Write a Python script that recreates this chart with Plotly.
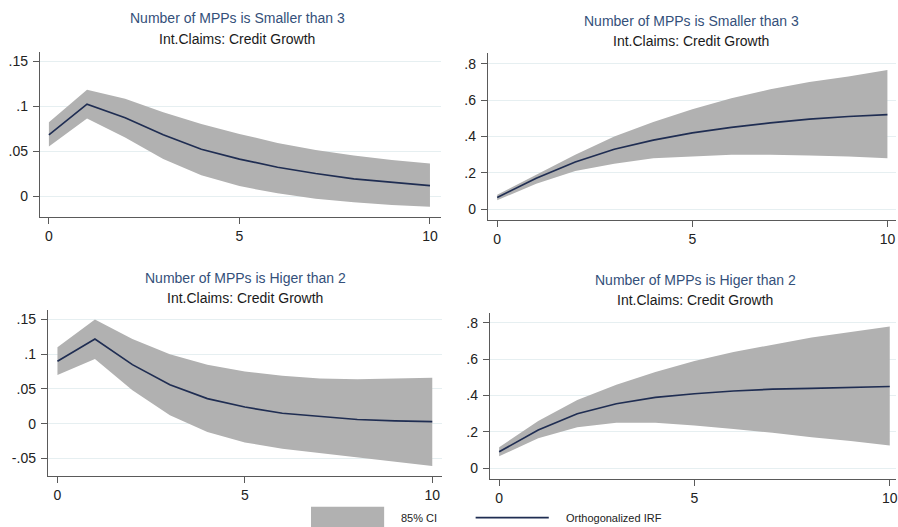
import plotly.graph_objects as go

W, H = 898, 527
steps = list(range(11))

# Panel data (IRF and 85% CI bounds)
irf_small_a = [0.068, 0.102, 0.087, 0.068, 0.052, 0.041, 0.032, 0.025, 0.019, 0.015, 0.0115]
up_small_a = [0.082, 0.118, 0.108, 0.093, 0.080, 0.069, 0.059, 0.051, 0.045, 0.040, 0.036]
lo_small_a = [0.055, 0.086, 0.065, 0.041, 0.023, 0.011, 0.003, -0.003, -0.007, -0.010, -0.012]

irf_small_b = [0.065, 0.17, 0.26, 0.33, 0.38, 0.42, 0.45, 0.475, 0.495, 0.51, 0.52]
up_small_b = [0.08, 0.19, 0.30, 0.40, 0.48, 0.55, 0.61, 0.66, 0.70, 0.73, 0.765]
lo_small_b = [0.05, 0.14, 0.21, 0.25, 0.28, 0.29, 0.30, 0.30, 0.295, 0.29, 0.28]

irf_high_a = [0.09, 0.122, 0.085, 0.056, 0.036, 0.024, 0.015, 0.010, 0.006, 0.004, 0.003]
up_high_a = [0.11, 0.15, 0.122, 0.100, 0.085, 0.075, 0.069, 0.065, 0.064, 0.065, 0.066]
lo_high_a = [0.07, 0.093, 0.048, 0.012, -0.012, -0.027, -0.036, -0.043, -0.049, -0.055, -0.061]

irf_high_b = [0.09, 0.21, 0.30, 0.355, 0.39, 0.41, 0.425, 0.435, 0.44, 0.445, 0.45]
up_high_b = [0.115, 0.26, 0.375, 0.46, 0.53, 0.59, 0.64, 0.68, 0.72, 0.75, 0.78]
lo_high_b = [0.065, 0.165, 0.225, 0.25, 0.25, 0.235, 0.215, 0.195, 0.17, 0.15, 0.125]

title1_small = "Number of MPPs is Smaller than 3"
title1_high = "Number of MPPs is Higer than 2"
title2 = "Int.Claims: Credit Growth"

x_ticks = [0, 5, 10]
y_ticks_a = [0.15, 0.1, 0.05, 0]
y_labels_a = [".15", ".1", ".05", "0"]
y_ticks_a2 = [0.15, 0.1, 0.05, 0, -0.05]
y_labels_a2 = [".15", ".1", ".05", "0", "-.05"]
y_ticks_b = [0.8, 0.6, 0.4, 0.2, 0]
y_labels_b = [".8", ".6", ".4", ".2", "0"]

FILL = "#b1b1b1"
LINE = "#1f2d52"
FONT = "Liberation Sans, Arial, sans-serif"

panels = [
    dict(irf=irf_small_a, up=up_small_a, lo=lo_small_a, px=(40, 442), py=(52, 217),
         xr=(-0.236, 10.29), yr=(-0.0233, 0.16), yt=y_ticks_a, yl=y_labels_a,
         t1=title1_small, tc=(238, 18, 39)),
    dict(irf=irf_small_b, up=up_small_b, lo=lo_small_b, px=(489, 898), py=(53, 220),
         xr=(-0.238, 10.22), yr=(-0.059, 0.859), yt=y_ticks_b, yl=y_labels_b,
         t1=title1_small, tc=(693, 20.5, 41.5)),
    dict(irf=irf_high_a, up=up_high_a, lo=lo_high_a, px=(48, 443), py=(310, 476),
         xr=(-0.255, 10.26), yr=(-0.0754, 0.1637), yt=y_ticks_a2, yl=y_labels_a2,
         t1=title1_high, tc=(246, 278, 298)),
    dict(irf=irf_high_b, up=up_high_b, lo=lo_high_b, px=(491, 898), py=(313, 479),
         xr=(-0.237, 10.16), yr=(-0.060, 0.855), yt=y_ticks_b, yl=y_labels_b,
         t1=title1_high, tc=(697, 280, 300)),
]

fig = go.Figure()
layout = dict(width=W, height=H, margin=dict(l=0, r=0, t=0, b=0),
              paper_bgcolor="white", plot_bgcolor="white", showlegend=False,
              font=dict(family=FONT, color="#222222"))
annotations = []
shapes = []

for i, p in enumerate(panels, start=1):
    xa = "x" if i == 1 else f"x{i}"
    ya = "y" if i == 1 else f"y{i}"
    fig.add_trace(go.Scatter(x=steps + steps[::-1], y=p["up"] + p["lo"][::-1],
                             fill="toself", fillcolor=FILL, line=dict(width=0),
                             mode="lines", name="85% CI", xaxis=xa, yaxis=ya,
                             hoverinfo="skip"))
    fig.add_trace(go.Scatter(x=steps, y=p["irf"], mode="lines",
                             line=dict(color=LINE, width=1.7),
                             name="Orthogonalized IRF", xaxis=xa, yaxis=ya))
    xkey = "xaxis" if i == 1 else f"xaxis{i}"
    ykey = "yaxis" if i == 1 else f"yaxis{i}"
    layout[xkey] = dict(domain=[p["px"][0] / W, p["px"][1] / W], range=list(p["xr"]),
                        anchor=ya, tickvals=x_ticks, ticktext=[str(t) for t in x_ticks],
                        showgrid=False, zeroline=False, showline=True,
                        linecolor="#5a5a5a", linewidth=1.2, ticks="outside",
                        ticklen=6, tickcolor="#5a5a5a", tickfont=dict(size=14, color="#222"),
                        ticklabeloverflow="allow", fixedrange=True)
    layout[ykey] = dict(domain=[1 - p["py"][1] / H, 1 - p["py"][0] / H], range=list(p["yr"]),
                        anchor=xa, tickvals=p["yt"], ticktext=p["yl"],
                        showgrid=True, gridcolor="#e6eff1", gridwidth=1,
                        zeroline=False, showline=True, linecolor="#5a5a5a",
                        linewidth=1.2, ticks="outside", ticklen=6, tickcolor="#5a5a5a",
                        tickfont=dict(size=14, color="#222"), ticklabelstandoff=2,
                        ticklabeloverflow="allow", fixedrange=True)
    cx, y1, y2 = p["tc"]
    annotations.append(dict(text=p["t1"], x=cx / W, y=1 - y1 / H, xref="paper", yref="paper",
                            xanchor="center", yanchor="middle", showarrow=False,
                            font=dict(size=14, color="#34507a", family=FONT)))
    annotations.append(dict(text=title2, x=cx / W, y=1 - y2 / H, xref="paper", yref="paper",
                            xanchor="center", yanchor="middle", showarrow=False,
                            font=dict(size=14, color="#1a1a1a", family=FONT)))

# legend (bottom)
shapes.append(dict(type="rect", xref="paper", yref="paper", x0=311.7 / W, x1=385 / W,
                   y0=1 - 528 / H, y1=1 - 506.7 / H, fillcolor=FILL, line=dict(width=0)))
shapes.append(dict(type="line", xref="paper", yref="paper", x0=476.7 / W, x1=550 / W,
                   y0=1 - 517.7 / H, y1=1 - 517.7 / H, line=dict(color=LINE, width=1.7)))
annotations.append(dict(text="85% CI", x=400 / W, y=1 - 517.5 / H, xref="paper", yref="paper",
                        xanchor="left", yanchor="middle", showarrow=False,
                        font=dict(size=11, color="#222", family=FONT)))
annotations.append(dict(text="Orthogonalized IRF", x=565.5 / W, y=1 - 517.5 / H, xref="paper",
                        yref="paper", xanchor="left", yanchor="middle", showarrow=False,
                        font=dict(size=11, color="#222", family=FONT)))

layout["annotations"] = annotations
layout["shapes"] = shapes
fig.update_layout(**layout)
fig.write_html("out.html", config={"displayModeBar": False},
               post_script="document.body.style.margin='0';document.body.style.overflow='hidden';")
